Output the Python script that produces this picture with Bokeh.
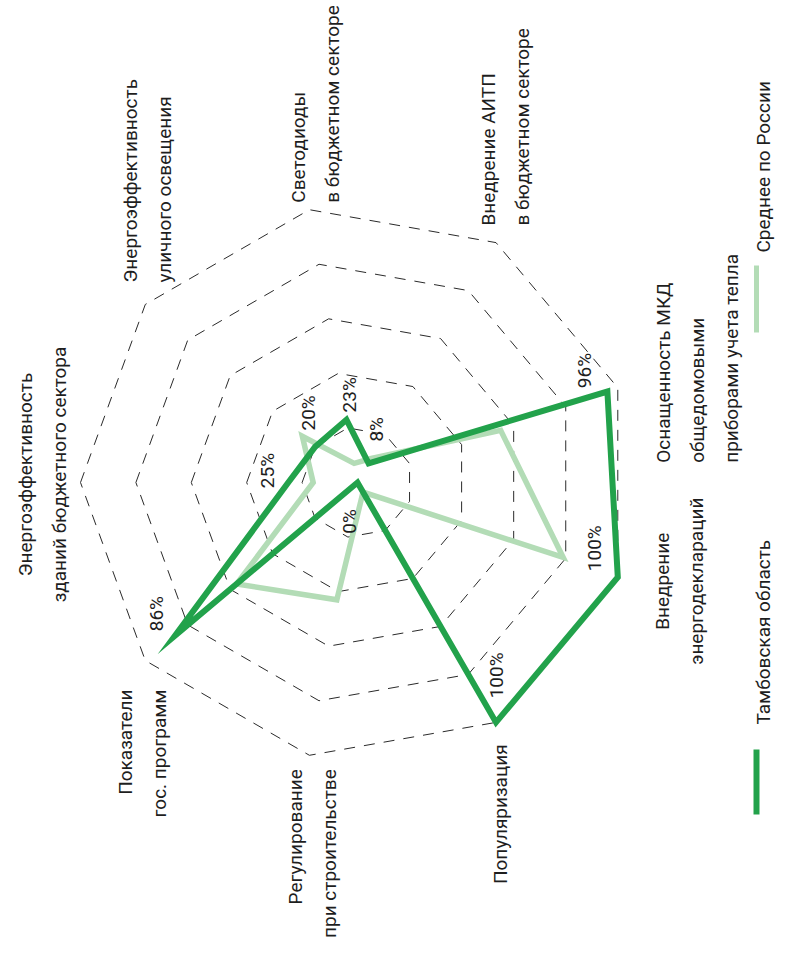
import math
from bokeh.plotting import figure
from bokeh.models import Range1d
from bokeh.core.properties import value
from bokeh.embed import file_html
from bokeh.resources import INLINE

# ---------------- data ----------------
categories = [
    "Энергоэффективность\nзданий бюджетного сектора",
    "Энергоэффективность\nуличного освещения",
    "Светодиоды\nв бюджетном секторе",
    "Внедрение АИТП\nв бюджетном секторе",
    "Оснащенность МКД\nобщедомовыми\nприборами учета тепла",
    "Внедрение\nэнергодеклараций",
    "Популяризация",
    "Регулирование\nпри строительстве",
    "Показатели\nгос. программ",
]
tambov = [25, 20, 23, 8, 96, 100, 100, 0, 86]
russia = [16, 26, 7, 10, 55, 79, 4, 43, 57]
ring_levels = [20, 40, 60, 80, 100]
series_names = ["Тамбовская область", "Среднее по России"]

# ---------------- layout / style ----------------
FONT = "Roboto"
FS = "19px"
DARK = "#22A24B"
LIGHT = "#B3DCB6"
TXT = "#1e1e1e"
W, H = 783, 940
PAGE_H = 960
CX, CY = 365, PAGE_H - 490   # chart centre (data coords = page pixels, y flipped)
R = 277                       # radius of 100 %
N = len(categories)
LINE_SP = 34

def pt(i, pct):
    th = math.radians(180 - 360.0 / N * i)
    r = R * pct / 100.0
    return CX + r * math.cos(th), CY + r * math.sin(th)

# category label anchors: (dx, dy in screen px from outer vertex, alignment)
cat_layout = [(-55, -8, "center"), (-15, -22, "left"), (-11, -7, "left"),
              (-8, -17, "left"), (46, 75, "left"), (45, 4, "center"),
              (4, 22, "right"), (-14, 14, "right"), (-20, 29, "right")]
# value label centre offsets from data vertex (screen px)
val_layout = [(-21, -12), (-7, -34), (3, -25), (8, -34), (-23, -21),
              (-23, -29), (0, -47), (-8, 39), (-19, -22)]

p = figure(width=W, height=H, output_backend="svg", toolbar_location=None,
           x_range=Range1d(8, 8 + W), y_range=Range1d(PAGE_H - 8 - H, PAGE_H - 8),
           min_border=0, outline_line_color=None,
           x_axis_location=None, y_axis_location=None)
p.grid.visible = False
p.background_fill_color = "white"
p.border_fill_color = "white"

# rings
for lvl in ring_levels:
    xs, ys = zip(*[pt(i, lvl) for i in range(N)])
    p.patch(list(xs), list(ys), fill_color=None, line_color="#2a2a2a",
            line_width=1, line_dash="11 9", line_join="round")

# series
for vals, col, lw in [(russia, LIGHT, 5.5), (tambov, DARK, 6)]:
    xs, ys = zip(*[pt(i, v) for i, v in enumerate(vals)])
    p.patch(list(xs), list(ys), fill_color=None, line_color=col,
            line_width=lw, line_join="miter")

# value labels (Tambov)
for i, v in enumerate(tambov):
    x, y = pt(i, v)
    dx, dy = val_layout[i]
    p.text(x=[x + dx], y=[y - dy], text=[f"{v}%"], angle=math.pi / 2,
           text_font=value(FONT), text_font_size=FS, text_color=TXT,
           text_align="center", text_baseline="middle")

# category labels
for i, lab in enumerate(categories):
    ox, oy = pt(i, 100)
    dx, dy, al = cat_layout[i]
    for k, line in enumerate(lab.split("\n")):
        p.text(x=[ox + dx + k * LINE_SP], y=[oy - dy], text=[line],
               angle=math.pi / 2, text_font=value(FONT), text_font_size=FS,
               text_color=TXT, text_align=al, text_baseline="alphabetic")

# legend (rotated, right edge)
leg_layout = [(764, 757, 822, 771, 732), (764, 273, 340, 771, 260)]
for name, col, lw, (bx, b0, b1, tx, ty) in zip(series_names, [DARK, LIGHT], [6, 5], leg_layout):
    p.segment(x0=[bx], y0=[PAGE_H - b0], x1=[bx], y1=[PAGE_H - b1],
              line_color=col, line_width=lw)
    p.text(x=[tx], y=[PAGE_H - ty], text=[name], angle=math.pi / 2,
           text_font=value(FONT), text_font_size=FS, text_color=TXT,
           text_align="left", text_baseline="alphabetic")

open("out.html", "w").write(file_html(p, INLINE))
